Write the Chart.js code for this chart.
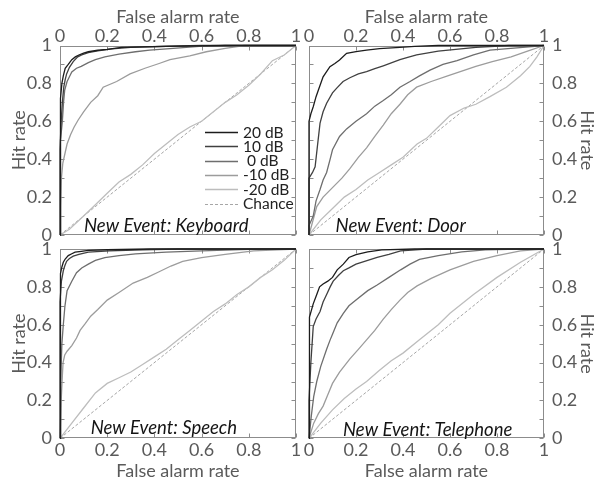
<!DOCTYPE html>
<html>
<head>
<meta charset="utf-8">
<script src="https://cdn.jsdelivr.net/npm/chart.js@4.4.1/dist/chart.umd.min.js"></script>
<style>
  html, body { margin: 0; padding: 0; background: #fff; }
  #wrap { position: relative; width: 596px; height: 484px; overflow: hidden; }
  #wrap canvas { position: absolute; left: 0; top: 0; }
</style>
</head>
<body>
<div id="wrap">
  <canvas id="kbd" width="596" height="484"></canvas>
  <canvas id="door" width="596" height="484"></canvas>
  <canvas id="speech" width="596" height="484"></canvas>
  <canvas id="phone" width="596" height="484"></canvas>
</div>
<script>
// ---- axis ticks ----
const xTickValues = [0, 0.2, 0.4, 0.6, 0.8, 1];
const xTickLabels = ['0', '0.2', '0.4', '0.6', '0.8', '1'];
const yTickValues = [0, 0.2, 0.4, 0.6, 0.8, 1];
const yTickLabels = ['0', '0.2', '0.4', '0.6', '0.8', '1'];
const yMinorTicks = [0, 0.1, 0.2, 0.3, 0.4, 0.5, 0.6, 0.7, 0.8, 0.9, 1];

// ---- series names ----
const seriesNames = ['20 dB', '10 dB', ' 0 dB', '-10 dB', '-20 dB'];
const chanceName = 'Chance';
const chanceLine = [[0, 0], [1, 1]];

// ---- ROC curves: [false alarm rate, hit rate] ----
// New Event: Keyboard
const kbd20 = [[0,0],[0,0.55],[0.004,0.72],[0.008,0.8],[0.014,0.84],[0.022,0.88],[0.035,0.9],[0.05,0.925],[0.065,0.94],[0.08,0.95],[0.1,0.96],[0.12,0.967],[0.16,0.975],[0.2,0.98],[0.26,0.99],[0.35,0.993],[0.5,0.997],[0.7,1],[1,1]];
const kbd10 = [[0,0],[0,0.45],[0.005,0.6],[0.01,0.7],[0.016,0.78],[0.022,0.82],[0.028,0.85],[0.04,0.885],[0.056,0.915],[0.075,0.94],[0.092,0.95],[0.12,0.962],[0.16,0.972],[0.22,0.982],[0.3,0.99],[0.45,0.996],[0.6,1],[1,1]];
const kbd0 = [[0,0],[0,0.3],[0.004,0.5],[0.01,0.6],[0.015,0.7],[0.02,0.765],[0.03,0.81],[0.042,0.84],[0.05,0.86],[0.07,0.88],[0.09,0.89],[0.12,0.91],[0.15,0.925],[0.19,0.94],[0.25,0.955],[0.32,0.967],[0.38,0.976],[0.48,0.985],[0.59,0.995],[0.7,1],[1,1]];
const kbdM10 = [[0,0],[0.003,0.15],[0.006,0.3],[0.012,0.38],[0.021,0.43],[0.03,0.48],[0.045,0.53],[0.06,0.57],[0.077,0.607],[0.1,0.65],[0.13,0.7],[0.16,0.735],[0.183,0.78],[0.24,0.81],[0.297,0.85],[0.36,0.88],[0.42,0.905],[0.466,0.925],[0.55,0.945],[0.62,0.967],[0.7,0.985],[0.78,1],[1,1]];
const kbdM20 = [[0,0],[0.04,0.03],[0.1,0.1],[0.15,0.16],[0.2,0.22],[0.25,0.28],[0.3,0.32],[0.35,0.37],[0.4,0.43],[0.45,0.48],[0.5,0.53],[0.55,0.57],[0.6,0.6],[0.65,0.65],[0.7,0.7],[0.75,0.74],[0.8,0.79],[0.85,0.85],[0.9,0.92],[0.95,0.95],[1,1]];

// New Event: Door
const door20 = [[0,0],[0,0.6],[0.008,0.64],[0.018,0.677],[0.03,0.73],[0.04,0.765],[0.06,0.835],[0.089,0.888],[0.11,0.905],[0.13,0.923],[0.16,0.959],[0.2,0.968],[0.245,0.976],[0.3,0.983],[0.387,0.99],[0.45,0.995],[0.55,1],[1,1]];
const door10 = [[0,0],[0,0.3],[0.015,0.33],[0.026,0.36],[0.036,0.47],[0.047,0.59],[0.06,0.65],[0.075,0.695],[0.1,0.75],[0.118,0.775],[0.145,0.81],[0.174,0.83],[0.21,0.85],[0.245,0.862],[0.28,0.878],[0.316,0.893],[0.35,0.908],[0.387,0.925],[0.42,0.937],[0.458,0.95],[0.55,0.97],[0.71,0.99],[0.85,1],[1,1]];
const door0 = [[0,0],[0,0.05],[0.018,0.1],[0.03,0.18],[0.047,0.24],[0.06,0.29],[0.075,0.33],[0.09,0.4],[0.1,0.45],[0.13,0.52],[0.16,0.56],[0.2,0.6],[0.245,0.64],[0.28,0.68],[0.316,0.71],[0.35,0.74],[0.387,0.78],[0.43,0.81],[0.47,0.84],[0.515,0.87],[0.57,0.9],[0.63,0.92],[0.7,0.95],[0.77,0.976],[0.91,0.99],[1,1]];
const doorM10 = [[0,0],[0.033,0.15],[0.06,0.2],[0.1,0.25],[0.14,0.3],[0.174,0.35],[0.21,0.41],[0.245,0.46],[0.28,0.52],[0.316,0.58],[0.35,0.64],[0.387,0.69],[0.42,0.74],[0.458,0.78],[0.52,0.81],[0.59,0.84],[0.65,0.865],[0.71,0.89],[0.78,0.915],[0.86,0.94],[0.93,0.97],[1,1]];
const doorM20 = [[0,0],[0.05,0.08],[0.1,0.14],[0.15,0.2],[0.2,0.24],[0.25,0.29],[0.3,0.33],[0.35,0.37],[0.4,0.41],[0.46,0.48],[0.5,0.51],[0.55,0.57],[0.6,0.63],[0.66,0.67],[0.71,0.69],[0.77,0.73],[0.84,0.78],[0.9,0.84],[0.94,0.89],[0.97,0.94],[1,1]];

// New Event: Speech
const speech20 = [[0,0],[0,0.8],[0.004,0.87],[0.008,0.905],[0.014,0.93],[0.022,0.947],[0.035,0.965],[0.05,0.975],[0.064,0.983],[0.09,0.988],[0.12,0.993],[0.2,0.996],[0.38,1],[1,1]];
const speech10 = [[0,0],[0,0.72],[0.006,0.83],[0.014,0.885],[0.02,0.91],[0.028,0.935],[0.04,0.95],[0.056,0.962],[0.08,0.972],[0.12,0.983],[0.21,0.99],[0.35,0.996],[0.5,1],[1,1]];
const speech0 = [[0,0],[0.003,0.3],[0.008,0.5],[0.014,0.6],[0.021,0.7],[0.03,0.78],[0.05,0.83],[0.07,0.875],[0.092,0.9],[0.12,0.92],[0.15,0.94],[0.19,0.955],[0.25,0.965],[0.32,0.974],[0.45,0.984],[0.6,0.99],[0.8,0.998],[1,1]];
const speechM10 = [[0,0],[0.005,0.2],[0.01,0.33],[0.013,0.4],[0.02,0.44],[0.03,0.46],[0.05,0.49],[0.07,0.53],[0.085,0.57],[0.106,0.604],[0.13,0.645],[0.16,0.68],[0.2,0.73],[0.25,0.77],[0.31,0.82],[0.37,0.85],[0.42,0.88],[0.47,0.91],[0.52,0.935],[0.6,0.955],[0.7,0.972],[0.82,0.99],[1,1]];
const speechM20 = [[0,0],[0.05,0.08],[0.1,0.16],[0.15,0.24],[0.2,0.29],[0.25,0.32],[0.3,0.35],[0.35,0.39],[0.4,0.43],[0.45,0.47],[0.5,0.52],[0.55,0.57],[0.6,0.62],[0.65,0.67],[0.7,0.71],[0.75,0.76],[0.8,0.8],[0.85,0.85],[0.9,0.89],[0.95,0.94],[1,1]];

// New Event: Telephone
const phone20 = [[0,0],[0,0.6],[0.004,0.64],[0.018,0.71],[0.033,0.76],[0.045,0.8],[0.06,0.815],[0.08,0.83],[0.1,0.85],[0.12,0.89],[0.146,0.92],[0.17,0.955],[0.2,0.97],[0.25,0.985],[0.31,0.995],[0.45,1],[1,1]];
const phone10 = [[0,0],[0,0.2],[0.008,0.4],[0.018,0.59],[0.03,0.63],[0.047,0.67],[0.06,0.72],[0.075,0.76],[0.09,0.8],[0.103,0.83],[0.125,0.86],[0.146,0.885],[0.17,0.9],[0.2,0.92],[0.25,0.94],[0.29,0.956],[0.34,0.972],[0.39,0.99],[0.5,1],[1,1]];
const phone0 = [[0,0],[0.01,0.12],[0.02,0.22],[0.033,0.3],[0.05,0.38],[0.075,0.47],[0.09,0.52],[0.1,0.55],[0.12,0.61],[0.146,0.66],[0.17,0.7],[0.2,0.73],[0.25,0.78],[0.29,0.81],[0.34,0.85],[0.39,0.89],[0.43,0.92],[0.47,0.945],[0.55,0.965],[0.65,0.985],[0.75,0.995],[0.9,1],[1,1]];
const phoneM10 = [[0,0],[0.02,0.08],[0.04,0.13],[0.06,0.17],[0.08,0.23],[0.1,0.29],[0.13,0.35],[0.174,0.42],[0.21,0.47],[0.245,0.52],[0.28,0.57],[0.316,0.63],[0.35,0.68],[0.387,0.73],[0.42,0.77],[0.46,0.805],[0.52,0.845],[0.6,0.89],[0.7,0.935],[0.8,0.965],[0.9,0.99],[1,1]];
const phoneM20 = [[0,0],[0.05,0.08],[0.1,0.15],[0.15,0.21],[0.2,0.26],[0.245,0.3],[0.3,0.36],[0.35,0.41],[0.4,0.45],[0.47,0.52],[0.55,0.6],[0.6,0.66],[0.7,0.76],[0.8,0.85],[0.9,0.93],[1,1]];

// ---- styling ----
const FONT = 'Lato, "DejaVu Sans", sans-serif';
const AXIS_COLOR = '#5a5a5a';
const FRAME_COLOR = '#8c8c8c';
const lineColors = ['#1c1c1c', '#404040', '#6e6e6e', '#9c9c9c', '#bdbdbd'];
const chanceColor = '#8f8f8f';

function toPoints(pairs) {
  return pairs.map(p => ({ x: p[0], y: p[1] }));
}

// frame, inward ticks, caption and (optionally) the legend
const panelDecor = {
  id: 'panelDecor',
  beforeDatasetsDraw(chart) {
    const { ctx, chartArea: a, scales: { x, y } } = chart;
    const L = Math.round(a.left) + 0.5, R = Math.round(a.right) - 0.5;
    const T = Math.round(a.top) + 0.5, B = Math.round(a.bottom) - 0.5;
    const tl = 4;
    ctx.save();
    ctx.strokeStyle = FRAME_COLOR;
    ctx.lineWidth = 1;
    ctx.strokeRect(L, T, R - L, B - T);
    ctx.beginPath();
    yMinorTicks.forEach(v => {
      const py = Math.round(y.getPixelForValue(v)) + 0.5;
      ctx.moveTo(L, py); ctx.lineTo(L + tl, py);
      ctx.moveTo(R, py); ctx.lineTo(R - tl, py);
    });
    xTickValues.forEach(v => {
      const px = Math.round(x.getPixelForValue(v)) + 0.5;
      ctx.moveTo(px, T); ctx.lineTo(px, T + tl);
      ctx.moveTo(px, B); ctx.lineTo(px, B - tl);
    });
    ctx.stroke();
    ctx.restore();
  },
  afterDatasetsDraw(chart, args, opts) {
    const { ctx, chartArea: a, scales: { x, y } } = chart;
    ctx.save();
    ctx.fillStyle = '#141414';
    ctx.font = 'italic 18.5px ' + FONT;
    ctx.textAlign = 'center';
    ctx.textBaseline = 'middle';
    ctx.fillText(opts.caption, x.getPixelForValue(opts.cx), y.getPixelForValue(opts.cy));
    if (opts.legend) {
      const ds = chart.data.datasets;
      const x0 = a.left + 145, x1 = a.left + 178, tx = a.left + 183;
      let ry = a.top + 86.5;
      ctx.font = '15.5px ' + FONT;
      ctx.textAlign = 'left';
      ctx.fillStyle = '#222';
      ds.forEach(d => {
        ctx.beginPath();
        ctx.strokeStyle = d.borderColor;
        ctx.lineWidth = d.label === chanceName ? 0.8 : 1.6;
        ctx.setLineDash(d.borderDash || []);
        ctx.moveTo(x0, Math.round(ry) + 0.5);
        ctx.lineTo(x1, Math.round(ry) + 0.5);
        ctx.stroke();
        ctx.setLineDash([]);
        ctx.fillText(d.label, tx, ry + 0.5);
        ry += 14.3;
      });
    }
    ctx.restore();
  }
};

function makePanel(id, curves, cfg) {
  const datasets = curves.map((c, i) => ({
    label: seriesNames[i],
    data: toPoints(c),
    borderColor: lineColors[i],
    borderWidth: 1.3,
    pointRadius: 0,
    tension: 0,
    fill: false,
    clip: false
  }));
  datasets.push({
    label: chanceName,
    data: toPoints(chanceLine),
    borderColor: chanceColor,
    borderWidth: 0.8,
    borderDash: [3, 2],
    pointRadius: 0,
    fill: false,
    clip: false
  });

  const titleFont = { family: FONT, size: 18, lineHeight: 1 };
  const tickFont = { family: FONT, size: 18, lineHeight: 1 };

  return new Chart(document.getElementById(id), {
    type: 'line',
    data: { datasets },
    options: {
      responsive: false,
      animation: false,
      events: [],
      layout: { padding: cfg.padding },
      plugins: {
        legend: { display: false },
        tooltip: { enabled: false },
        panelDecor: { caption: cfg.caption, cx: cfg.cx, cy: cfg.cy, legend: !!cfg.legend }
      },
      scales: {
        x: {
          type: 'linear',
          position: cfg.xPos,
          min: 0, max: 1,
          afterBuildTicks: s => { s.ticks = xTickValues.map(v => ({ value: v })); },
          afterFit: s => { s.height = cfg.xH; },
          grid: { display: false, drawTicks: false },
          border: { display: false },
          ticks: {
            autoSkip: false, maxRotation: 0,
            padding: cfg.xPos === 'top' ? 0.5 : 3,
            color: AXIS_COLOR, font: tickFont,
            callback: (v, i) => xTickLabels[i]
          },
          title: {
            display: true, text: 'False alarm rate', color: AXIS_COLOR, font: titleFont,
            padding: cfg.xPos === 'top' ? { top: 8, bottom: 0 } : { top: 0, bottom: 4 }
          }
        },
        y: {
          type: 'linear',
          position: cfg.yPos,
          min: 0, max: 1,
          afterBuildTicks: s => { s.ticks = yTickValues.map(v => ({ value: v })); },
          afterFit: s => { s.width = cfg.yW; },
          grid: { display: false, drawTicks: false },
          border: { display: false },
          ticks: {
            autoSkip: false, padding: 8,
            color: AXIS_COLOR, font: tickFont,
            callback: (v, i) => yTickLabels[i]
          },
          title: {
            display: true, text: 'Hit rate', color: AXIS_COLOR, font: titleFont,
            padding: cfg.yPos === 'left' ? { top: 10, bottom: 0 } : { top: 0, bottom: 0 }
          }
        }
      }
    },
    plugins: [panelDecor]
  });
}

makePanel('kbd', [kbd20, kbd10, kbd0, kbdM10, kbdM20], {
  caption: 'New Event: Keyboard', cx: 0.45, cy: 0.045, legend: true,
  xPos: 'top', yPos: 'left', xH: 45.5, yW: 60,
  padding: { left: 0, top: 0, right: 300, bottom: 249 }
});
makePanel('door', [door20, door10, door0, doorM10, doorM20], {
  caption: 'New Event: Door', cx: 0.39, cy: 0.045,
  xPos: 'top', yPos: 'right', xH: 45.5, yW: 52,
  padding: { left: 309, top: 0, right: 0, bottom: 249 }
});
makePanel('speech', [speech20, speech10, speech0, speechM10, speechM20], {
  caption: 'New Event: Speech', cx: 0.44, cy: 0.055,
  xPos: 'bottom', yPos: 'left', xH: 45.7, yW: 60,
  padding: { left: 0, top: 249, right: 300, bottom: 0 }
});
makePanel('phone', [phone20, phone10, phone0, phoneM10, phoneM20], {
  caption: 'New Event: Telephone', cx: 0.505, cy: 0.045,
  xPos: 'bottom', yPos: 'right', xH: 45.7, yW: 52,
  padding: { left: 309, top: 249, right: 0, bottom: 0 }
});
</script>
</body>
</html>
